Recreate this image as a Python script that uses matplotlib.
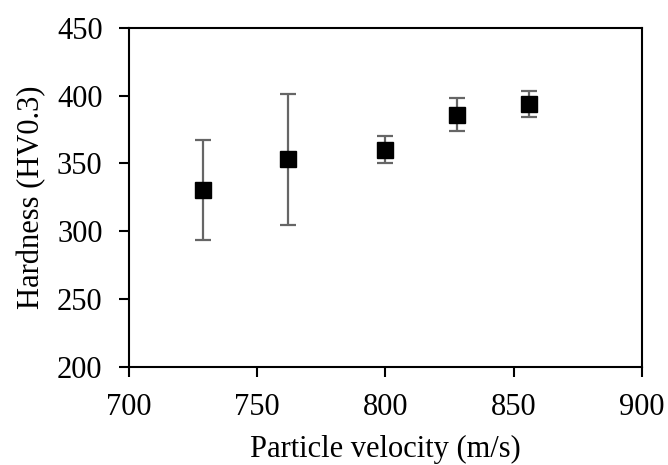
import matplotlib
matplotlib.use("Agg")
import matplotlib.pyplot as plt

# particle velocity vs hardness
velocity = [729, 762, 800, 828, 856]
hardness = [330.5, 353, 360, 386, 394]
err = [37, 48, 10, 12, 9.5]

plt.rcParams['font.family'] = ['Liberation Serif', 'DejaVu Serif']

fig = plt.figure(figsize=(6.68, 4.65), dpi=100)
ax = fig.add_axes([0.193, 0.211, 0.768, 0.729])

ax.errorbar(velocity, hardness, yerr=err, fmt='s', color='black', markersize=11,
            ecolor='#666666', elinewidth=1.6, capsize=6, capthick=1.6)

ax.set_xlim(700, 900)
ax.set_ylim(200, 450)
ax.set_xticks([700, 750, 800, 850, 900])
ax.set_yticks([200, 250, 300, 350, 400, 450])
ax.tick_params(direction='out', length=7, width=1.5, labelsize=22, pad=12)
for s in ax.spines.values():
    s.set_linewidth(1.5)

ax.set_xlabel('Particle velocity (m/s)', fontsize=22, labelpad=9)
ax.set_ylabel('Hardness (HV0.3)', fontsize=22, labelpad=8)

fig.savefig('out.png', dpi=100)
